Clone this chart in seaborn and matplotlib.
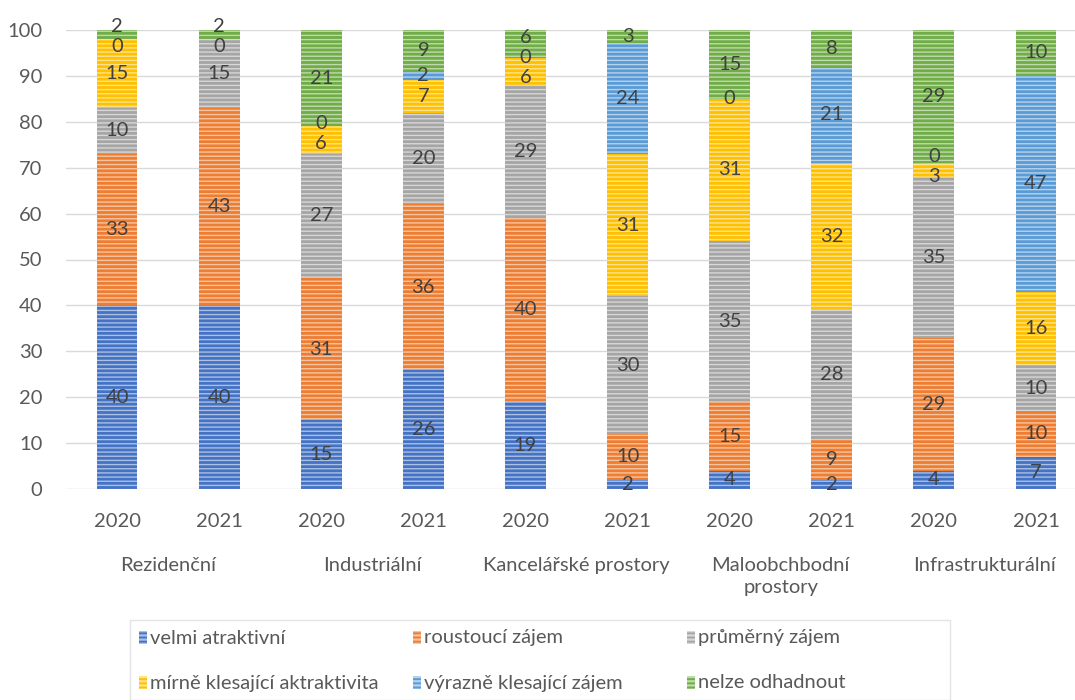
import numpy as np
import pandas as pd
import matplotlib
matplotlib.use("Agg")
import matplotlib.pyplot as plt
import matplotlib.colors as mcolors
from matplotlib.patches import Rectangle
import seaborn as sns

categories = ["Rezidenční", "Industriální", "Kancelářské prostory",
              "Maloobchbodní\nprostory", "Infrastrukturální"]
years = ["2020", "2021"] * 5
series = ["velmi atraktivní", "roustoucí zájem", "průměrný zájem",
          "mírně klesající aktraktivita", "výrazně klesající zájem", "nelze odhadnout"]
colors = ["#4472C4", "#ED7D31", "#A5A5A5", "#FFC000", "#5B9BD5", "#70AD47"]

velmi = [40, 40, 15, 26, 19, 2, 4, 2, 4, 7]
roustouci = [33, 43, 31, 36, 40, 10, 15, 9, 29, 10]
prumerny = [10, 15, 27, 20, 29, 30, 35, 28, 35, 10]
mirne = [15, 0, 6, 7, 6, 31, 31, 32, 3, 16]
vyrazne = [0, None, 0, 2, 0, 24, 0, 21, 0, 47]
nelze = [2, 2, 21, 9, 6, 3, 15, 8, 29, 10]
values = [velmi, roustouci, prumerny, mirne, vyrazne, nelze]

sns.set_theme(style="white")
plt.rcParams["font.family"] = ["Lato", "DejaVu Sans"]
txt = "#595959"
fs = 14.5

fig = plt.figure(figsize=(10.75, 7), dpi=100)
ax = fig.add_axes([66 / 1075, 1 - 489 / 700, 1021 / 1075, 459 / 700])

vals = np.array([[np.nan if v is None else v for v in s] for s in values], dtype=float)
cum = np.nancumsum(vals, axis=0)
bars = list(range(10))

# stacked bars: draw the running totals from the top series down
for i in range(len(series) - 1, -1, -1):
    df = pd.DataFrame({"bar": bars, "total": cum[i]})
    n0 = len(ax.patches)
    sns.barplot(data=df, x="bar", y="total", color=colors[i], width=0.4,
                errorbar=None, ax=ax, zorder=2)
    hatch_col = mcolors.to_hex(0.45 * np.array(mcolors.to_rgb(colors[i])) + 0.55)
    for p in ax.patches[n0:]:
        p.set_facecolor(colors[i])
        p.set_edgecolor(hatch_col)
        p.set_hatch("----")
        p.set_linewidth(0)
plt.rcParams["hatch.linewidth"] = 1.6

# value labels, nudged apart where they collide
min_gap = 4.4
for b in bars:
    labs = []
    for i in range(len(series)):
        v = vals[i, b]
        if np.isnan(v):
            continue
        labs.append([cum[i, b] - v / 2, int(v)])
    for _ in range(50):
        moved = False
        for k in range(len(labs) - 1):
            gap = labs[k + 1][0] - labs[k][0]
            if gap < min_gap:
                d = (min_gap - gap) / 2
                labs[k][0] -= d
                labs[k + 1][0] += d
                moved = True
        if not moved:
            break
    for y, v in labs:
        ax.text(b, y, str(v), ha="center", va="center", fontsize=fs,
                color="#404040", clip_on=False, zorder=5)

ax.set_xlim(-0.5, 9.5)
ax.set_ylim(0, 100)
ax.set_yticks(range(0, 101, 10))
ax.set_xticks(bars)
ax.set_xticklabels(years)
ax.tick_params(axis="both", length=0, labelsize=fs, colors=txt)
ax.tick_params(axis="x", pad=17)
ax.tick_params(axis="y", pad=17)
ax.set_xlabel("")
ax.set_ylabel("")
ax.yaxis.grid(True, color="#D9D9D9", linewidth=1)
ax.set_axisbelow(True)
for s in ax.spines.values():
    s.set_visible(False)

trans = matplotlib.transforms.blended_transform_factory(ax.transData, ax.transAxes)
for k, c in enumerate(categories):
    ax.text(2 * k + 0.5, -0.148, c, transform=trans, ha="center", va="top",
            fontsize=fs, color=txt, linespacing=1.35)

# legend box
fig.patches.append(Rectangle((130 / 1075, 0), 820 / 1075, 80 / 700,
                             transform=fig.transFigure, facecolor="white",
                             edgecolor="#E4E4E4", linewidth=1))
col_x = [139, 413, 687]
row_y = [638, 683]
for i, name in enumerate(series):
    x = col_x[i % 3] / 1075
    y = 1 - row_y[i // 3] / 700
    hatch_col = mcolors.to_hex(0.45 * np.array(mcolors.to_rgb(colors[i])) + 0.55)
    fig.patches.append(Rectangle((x, y - 6 / 700), 8 / 1075, 13 / 700,
                                 transform=fig.transFigure, facecolor=colors[i],
                                 edgecolor=hatch_col, hatch="----", linewidth=0))
    fig.text(x + 11 / 1075, y, name, ha="left", va="center", fontsize=fs, color=txt)

fig.savefig("out.png", dpi=100)
